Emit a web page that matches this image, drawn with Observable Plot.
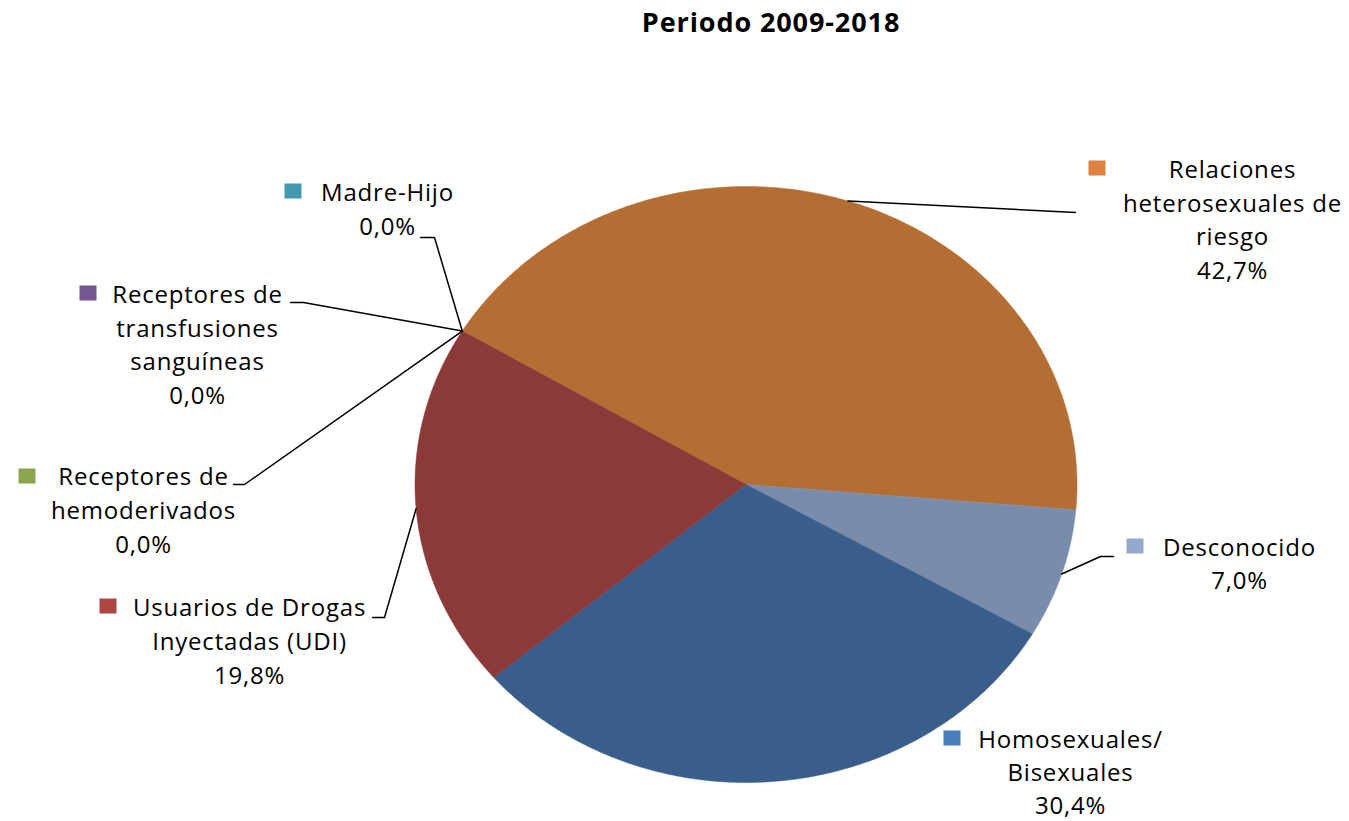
<!DOCTYPE html>
<html>
<head>
<meta charset="utf-8">
<script src="https://cdn.jsdelivr.net/npm/d3@7"></script>
<script src="https://cdn.jsdelivr.net/npm/@observablehq/plot@0.6"></script>
<style>
  body { margin: 0; background: #fff; }
  #wrap { position: relative; width: 1349px; height: 821px; }
  #title { position: absolute; top: 3px; left: 771px; transform: translateX(-50%);
    font-family: "Open Sans", sans-serif; font-weight: bold; font-size: 27px; letter-spacing: 0.9px; white-space: nowrap; color: #000; }
  svg text { letter-spacing: 0.8px; }
</style>
</head>
<body>
<div id="wrap"><div id="title">Periodo 2009-2018</div></div>
<script>
// ---- data ----
const categories = [
  "Relaciones heterosexuales de riesgo",
  "Desconocido",
  "Homosexuales/Bisexuales",
  "Usuarios de Drogas Inyectadas (UDI)",
  "Receptores de hemoderivados",
  "Receptores de transfusiones sanguíneas",
  "Madre-Hijo"
];
const values = [42.7, 7.0, 30.4, 19.8, 0.0, 0.0, 0.0];
const labelLines = [
  ["Relaciones", "heterosexuales de", "riesgo"],
  ["Desconocido"],
  ["Homosexuales/", "Bisexuales"],
  ["Usuarios de Drogas", "Inyectadas (UDI)"],
  ["Receptores de", "hemoderivados"],
  ["Receptores de", "transfusiones", "sanguíneas"],
  ["Madre-Hijo"]
];
const sliceColors = ["#B46E33", "#7A8CAB", "#3A5E8B", "#8B3A39", "#8BA650", "#735892", "#4399AF"];
const keyColors   = ["#DC8340", "#95A9CF", "#4A7DBB", "#AD4744", "#8BA650", "#735892", "#4399AF"];

// ---- layout (pixels) ----
const startAngle = -59; // degrees, clockwise from 12 o'clock
const textPos = [ // center x, first line y, line gap
  [1232, 170, 33.5], [1239, 548, 33], [1070, 740, 33], [249, 608, 34],
  [143, 477, 34], [197, 295, 33.5], [387, 193, 34]
];
const keyPos = [[1097, 168], [1135, 546], [952, 738], [108, 606], [27, 476], [88, 293], [293, 191]];
const leaderPos = [ // label-side points
  [[1075, 212]], [[1113, 556], [1100, 556]], null, [[372, 617], [384, 617]],
  [[233, 484], [244, 484]], [[290, 302], [303, 302]], [[420, 237], [434, 237]]
];

const xr = [414.5, 1076.5], yr = [186, 782];
const px2x = d3.scaleLinear().domain(xr).range([-1, 1]);
const px2y = d3.scaleLinear().domain(yr).range([-1, 1]);
const fmtPct = v => v.toFixed(1).replace(".", ",") + "%";

const total = d3.sum(values);
const rad = a => a * Math.PI / 180;
let acc = 0;
const sliceRows = [], leaderRows = [], textRows = [], keyRows = [];
categories.forEach((cat, i) => {
  const a0 = startAngle + acc / total * 360;
  const a1 = a0 + values[i] / total * 360;
  acc += values[i];
  if (values[i] > 0) {
    const steps = Math.max(2, Math.ceil((a1 - a0) / 0.5));
    sliceRows.push({cat, x: 0, y: 0, c: sliceColors[i]});
    for (let k = 0; k <= steps; k++) {
      const a = rad(a0 + (a1 - a0) * k / steps);
      sliceRows.push({cat, x: Math.sin(a), y: -Math.cos(a), c: sliceColors[i]});
    }
    sliceRows.push({cat, x: 0, y: 0, c: sliceColors[i]});
  }
  const am = rad((a0 + a1) / 2);
  if (leaderPos[i]) {
    leaderPos[i].forEach(([px, py]) => leaderRows.push({cat, x: px2x(px), y: px2y(py)}));
    leaderRows.push({cat, x: Math.sin(am), y: -Math.cos(am)});
  }
  const lines = [...labelLines[i], fmtPct(values[i])];
  const [tx, ty, gap] = textPos[i];
  lines.forEach((t, j) => textRows.push({t, x: px2x(tx), y: px2y(ty + j * gap)}));
  const [kx, ky] = keyPos[i];
  keyRows.push({x1: px2x(kx - 8.5), x2: px2x(kx + 8.5), y1: px2y(ky - 7.5), y2: px2y(ky + 7.5), c: keyColors[i]});
});

const chart = Plot.plot({
  width: 1349,
  height: 821,
  margin: 0,
  style: {background: "transparent"},
  x: {domain: [-1, 1], range: xr, axis: null},
  y: {domain: [-1, 1], range: yr, axis: null},
  color: {type: "identity"},
  marks: [
    Plot.line(sliceRows, {x: "x", y: "y", z: "cat", fill: "c", stroke: "c", strokeWidth: 0.5, curve: "linear"}),
    Plot.line(leaderRows, {x: "x", y: "y", z: "cat", stroke: "#000", strokeWidth: 1.5, curve: "linear"}),
    Plot.rect(keyRows, {x1: "x1", x2: "x2", y1: "y1", y2: "y2", fill: "c"}),
    Plot.text(textRows, {x: "x", y: "y", text: "t", textAnchor: "middle", fontSize: 24, fontFamily: "Open Sans", fill: "#000"})
  ]
});
const wrap = document.getElementById("wrap");
wrap.insertBefore(chart, wrap.firstChild);
</script>
</body>
</html>
